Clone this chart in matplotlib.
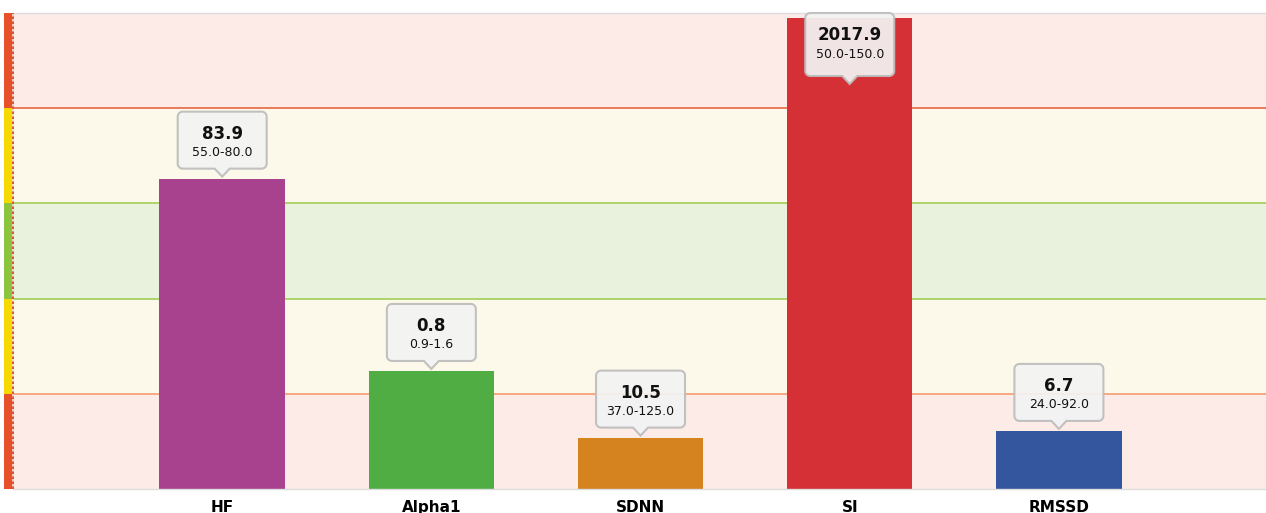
import matplotlib
matplotlib.use('Agg')
import matplotlib.pyplot as plt
from matplotlib.patches import Polygon
from matplotlib.transforms import IdentityTransform
import numpy as np

# ---- data ----
categories = ['HF', 'Alpha1', 'SDNN', 'SI', 'RMSSD']
values = ['83.9', '0.8', '10.5', '2017.9', '6.7']
ranges = ['55.0-80.0', '0.9-1.6', '37.0-125.0', '50.0-150.0', '24.0-92.0']
levels = [3.26, 1.24, 0.54, 4.95, 0.61]          # bar height on the 5-zone scale
bar_colors = ['#a8428f', '#4fad43', '#d4831f', '#d53036', '#34569f']

zone_edges = [0, 1, 2, 3, 4, 5]
zone_fill = ['#fcebe7', '#fdf9ea', '#e8f2dc', '#fdf9ea', '#fcebe7']
zone_strip = ['#e6512a', '#f6d900', '#8cc43e', '#f6d900', '#e6512a']
zone_line_pos = [1, 2, 3, 4]
zone_line_col = ['#f5a27a', '#a8d163', '#a8d163', '#e8714f']

W, H = 1266, 513
fig = plt.figure(figsize=(W / 100, H / 100), dpi=100)
fig.patch.set_facecolor('white')

ax = fig.add_axes([13 / W, 24 / H, (W - 13) / W, 476 / H])
ax.set_xlim(-1.0, 4.99)
ax.set_ylim(zone_edges[0], zone_edges[-1])
for i in range(len(zone_fill)):
    ax.axhspan(zone_edges[i], zone_edges[i + 1], color=zone_fill[i], lw=0, zorder=0)
for y, c in zip(zone_line_pos, zone_line_col):
    ax.axhline(y, color=c, lw=1.3, zorder=1)

x = np.arange(len(categories))
ax.bar(x, levels, width=0.6, color=bar_colors, zorder=2)

ax.set_xticks(x)
ax.set_xticklabels(categories, fontsize=11, fontweight='bold', family='DejaVu Sans')
ax.tick_params(axis='x', length=0, pad=8)
ax.set_yticks([])
for s in ['left', 'right']:
    ax.spines[s].set_visible(False)
for s in ['top', 'bottom']:
    ax.spines[s].set_color('#dddddd')
    ax.spines[s].set_linewidth(1.0)

# left colored strip
sax = fig.add_axes([4 / W, 24 / H, 10 / W, 476 / H])
sax.set_xlim(0, 1)
sax.set_ylim(zone_edges[0], zone_edges[-1])
for i in range(len(zone_strip)):
    sax.axhspan(zone_edges[i], zone_edges[i + 1], color=zone_strip[i], lw=0)
sax.axvline(0.9, color='#f2e6e2', lw=1.2)
sax.axvline(0.9, color='#e03a18', lw=1.2, ls=(0, (1.5, 1.5)))
sax.axis('off')


def caret_box(cx, bottom, top, w, r, cw, ch):
    left, right = cx - w / 2, cx + w / 2
    pts = [(left + r, bottom), (cx - cw / 2, bottom), (cx, bottom - ch),
           (cx + cw / 2, bottom), (right - r, bottom)]
    def arc(x0, y0, a0, a1):
        t = np.radians(np.linspace(a0, a1, 8))
        return [(x0 + r * np.cos(tt), y0 + r * np.sin(tt)) for tt in t]
    pts += arc(right - r, bottom + r, -90, 0)
    pts += arc(right - r, top - r, 0, 90)
    pts += arc(left + r, top - r, 90, 180)
    pts += arc(left + r, bottom + r, 180, 270)
    return pts


ax_top = ax.transAxes.transform((0, 1))[1]
box_w, box_h = 89, 57
for i in range(len(categories)):
    px, py = ax.transData.transform((x[i], levels[i]))
    bottom = py + 10
    top = bottom + box_h
    if top > ax_top:
        shift = top - ax_top
        top -= shift
        bottom -= shift + 6
    verts = caret_box(px, bottom, top, box_w, 5, 15, 8)
    poly = Polygon(verts, closed=True, transform=IdentityTransform(),
                   facecolor='#f3f3f3', edgecolor='#bdbdbd', lw=1.5,
                   alpha=0.93, zorder=5)
    fig.add_artist(poly)
    fig.text(px / W, (top - 22) / H, values[i], ha='center', va='center',
             fontsize=12, fontweight='bold', color='#111111', zorder=6)
    fig.text(px / W, (top - 41) / H, ranges[i], ha='center', va='center',
             fontsize=9, color='#111111', zorder=6)

fig.savefig('out.png', dpi=100)
